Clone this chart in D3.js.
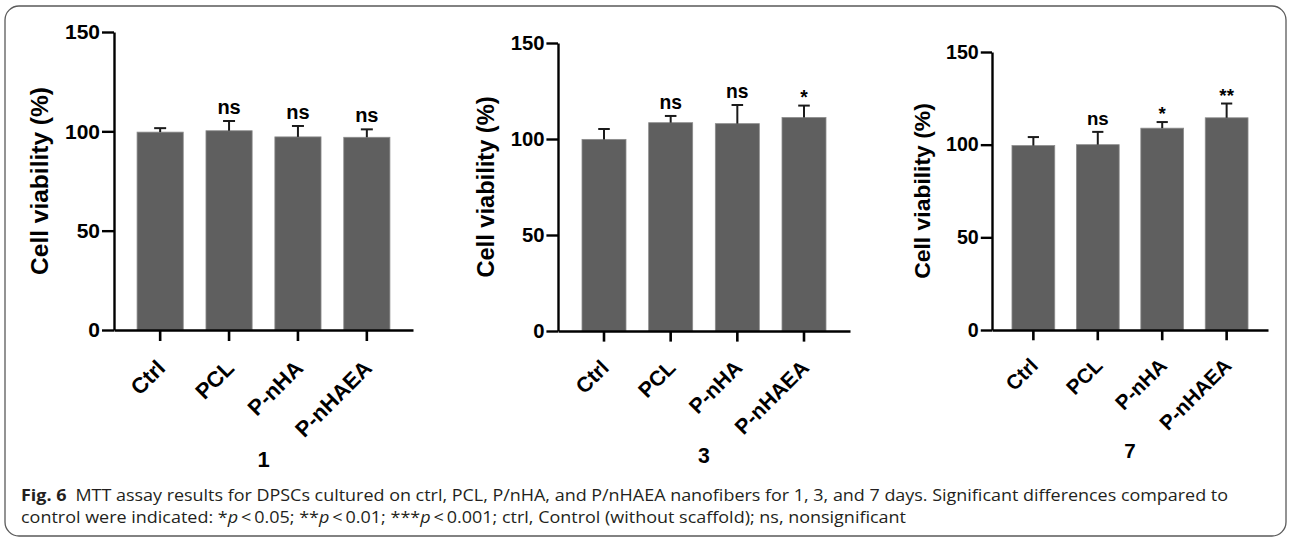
<!DOCTYPE html>
<html>
<head>
<meta charset="utf-8">
<script src="https://cdn.jsdelivr.net/npm/d3@7"></script>
<style>
  body { margin: 0; background: #fff; }
  svg { display: block; }
  .axis path, .axis line { stroke: #000; }
  .axis text { fill: #000; font-family: "Liberation Sans", Arial, sans-serif; font-weight: bold; }
</style>
</head>
<body>
<script>
// values (upper error bar given as +SD)
var categories = ["Ctrl", "PCL", "P-nHA", "P-nHAEA"]
var days = ["1", "3", "7"]
var yTicks = [0, 50, 100, 150]

var day1Means = [99.6, 100.3, 97.2, 97.0]
var day1Errors = [2.0, 4.9, 5.5, 4.0]
var day1Sig = ["", "ns", "ns", "ns"]

var day3Means = [99.8, 108.5, 108.0, 111.2]
var day3Errors = [5.4, 3.5, 9.7, 6.2]
var day3Sig = ["", "ns", "ns", "*"]

var day7Means = [99.5, 100.0, 108.9, 114.5]
var day7Errors = [4.6, 6.9, 3.3, 7.7]
var day7Sig = ["", "ns", "*", "**"]

var captionBold = "Fig. 6"
var captionLine1 = "MTT assay results for DPSCs cultured on ctrl, PCL, P/nHA, and P/nHAEA nanofibers for 1, 3, and 7 days. Significant differences compared to"

var W = 1290, H = 539

var svg = d3.select("body").append("svg")
  .attr("width", W)
  .attr("height", H)

// rounded frame around the figure
svg.append("rect")
  .attr("x", 5).attr("y", 6)
  .attr("width", 1281).attr("height", 530)
  .attr("rx", 14)
  .attr("fill", "none")
  .attr("stroke", "#5a5a5a")
  .attr("stroke-width", 1.3)

// panel placement (each panel is a slightly different size in the figure)
var panels = [
  {means: day1Means, errs: day1Errors, sig: day1Sig, day: days[0], x0: 114, x1: 413, y0: 330, y1: 32, k: 1.0, pi: 0.33, po: 0.335},
  {means: day3Means, errs: day3Errors, sig: day3Sig, day: days[1], x0: 558, x1: 850, y0: 331, y1: 43, k: 0.965, pi: 0.34, po: 0.36},
  {means: day7Means, errs: day7Errors, sig: day7Sig, day: days[2], x0: 992, x1: 1268, y0: 330, y1: 52, k: 0.935, pi: 0.336, po: 0.31}
]

panels.forEach(function(p)
{
  drawPanel(p)
})

function drawPanel(p)
{
  var k = p.k
  var g = svg.append("g")

  var x = d3.scaleBand()
    .domain(categories)
    .range([p.x0, p.x1])
    .paddingInner(p.pi)
    .paddingOuter(p.po)

  var y = d3.scaleLinear()
    .domain([0, 150])
    .range([p.y0, p.y1])

  // bars
  g.selectAll("rect.bar")
    .data(categories)
    .enter()
    .append("rect")
    .attr("class", "bar")
    .attr("x", function(d) { return x(d) })
    .attr("width", x.bandwidth())
    .attr("y", function(d, i) { return y(p.means[i]) })
    .attr("height", function(d, i) { return p.y0 - y(p.means[i]) })
    .attr("fill", "#5f5f5f")
    .attr("stroke", "#8c8c8c")
    .attr("stroke-width", 0.8)

  // upper error bars
  var eb = g.selectAll("g.err")
    .data(categories)
    .enter()
    .append("g")
    .attr("class", "err")
  eb.append("line")
    .attr("x1", function(d) { return x(d) + x.bandwidth() / 2 })
    .attr("x2", function(d) { return x(d) + x.bandwidth() / 2 })
    .attr("y1", function(d, i) { return y(p.means[i]) })
    .attr("y2", function(d, i) { return y(p.means[i] + p.errs[i]) })
    .attr("stroke", "#1a1a1a")
    .attr("stroke-width", 2)
  eb.append("line")
    .attr("x1", function(d) { return x(d) + x.bandwidth() / 2 - 6 * k })
    .attr("x2", function(d) { return x(d) + x.bandwidth() / 2 + 6 * k })
    .attr("y1", function(d, i) { return y(p.means[i] + p.errs[i]) })
    .attr("y2", function(d, i) { return y(p.means[i] + p.errs[i]) })
    .attr("stroke", "#1a1a1a")
    .attr("stroke-width", 2)

  // significance marks
  g.selectAll("text.sig")
    .data(categories)
    .enter()
    .append("text")
    .attr("class", "sig")
    .attr("x", function(d) { return x(d) + x.bandwidth() / 2 })
    .attr("y", function(d, i) {
      var top = y(p.means[i] + p.errs[i])
      return p.sig[i].indexOf("*") >= 0 ? top - 2 * k : top - 7 * k
    })
    .attr("text-anchor", "middle")
    .style("font-family", "Liberation Sans, Arial, sans-serif")
    .style("font-weight", "bold")
    .style("font-size", (20 * k) + "px")
    .text(function(d, i) { return p.sig[i] })

  // y axis
  var yAxis = g.append("g")
    .attr("class", "axis")
    .attr("transform", "translate(" + p.x0 + ",0)")
    .call(d3.axisLeft(y).tickValues(yTicks).tickSize(12 * k).tickPadding(2).tickSizeOuter(0))
  yAxis.selectAll("path, line").attr("stroke-width", 2.4)
  yAxis.selectAll("text").style("font-size", (21 * k) + "px")

  // x axis
  var xAxis = g.append("g")
    .attr("class", "axis")
    .attr("transform", "translate(0," + p.y0 + ")")
    .call(d3.axisBottom(x).tickSize(11 * k).tickSizeOuter(0))
  xAxis.selectAll("path, line").attr("stroke-width", 2.6)
  xAxis.selectAll("text")
    .style("font-size", (22 * k) + "px")
    .attr("text-anchor", "end")
    .attr("x", 0).attr("y", 0).attr("dy", "0.35em")
    .attr("transform", "translate(" + (1 * k) + "," + (34 * k) + ") rotate(-45)")

  // y axis title
  g.append("text")
    .attr("transform", "translate(" + (p.x0 - 75 * k) + "," + ((p.y0 + p.y1) / 2) + ") rotate(-90)")
    .attr("text-anchor", "middle")
    .attr("dy", "0.35em")
    .style("font-family", "Liberation Sans, Arial, sans-serif")
    .style("font-weight", "bold")
    .style("font-size", (24.5 * k) + "px")
    .text("Cell viability (%)")

  // day label under each panel
  g.append("text")
    .attr("x", (p.x0 + p.x1) / 2)
    .attr("y", p.y0 + 137 * k)
    .attr("text-anchor", "middle")
    .style("font-family", "Liberation Sans, Arial, sans-serif")
    .style("font-weight", "bold")
    .style("font-size", (22 * k) + "px")
    .text(p.day)
}

// caption
var cap = svg.append("g")
  .style("font-family", "Open Sans, Noto Sans, sans-serif")
  .style("font-size", "16px")
  .attr("fill", "#231f20")

var l1 = cap.append("text")
  .attr("x", 21).attr("y", 501)
  .attr("textLength", 1207)
  .attr("lengthAdjust", "spacingAndGlyphs")
l1.append("tspan").style("font-weight", "bold").text(captionBold)
l1.append("tspan").attr("dx", 8).text(captionLine1)

var l2 = cap.append("text")
  .attr("x", 21).attr("y", 523)
  .attr("textLength", 885)
  .attr("lengthAdjust", "spacingAndGlyphs")
l2.append("tspan").text("control were indicated: *")
l2.append("tspan").style("font-style", "italic").text("p")
l2.append("tspan").text("\u2009<\u20090.05; **")
l2.append("tspan").style("font-style", "italic").text("p")
l2.append("tspan").text("\u2009<\u20090.01; ***")
l2.append("tspan").style("font-style", "italic").text("p")
l2.append("tspan").text("\u2009<\u20090.001; ctrl, Control (without scaffold); ns, nonsignificant")
</script>
</body>
</html>
